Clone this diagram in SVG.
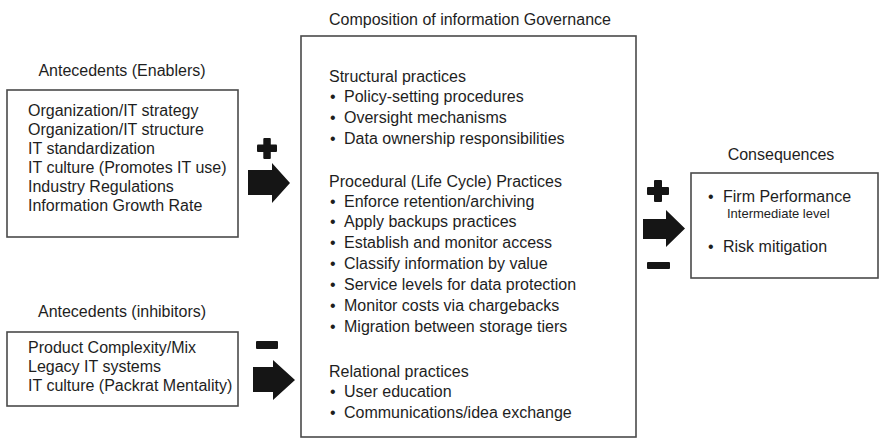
<svg xmlns="http://www.w3.org/2000/svg" width="883" height="439" viewBox="0 0 883 439">
<defs>
<style>
text{font-family:"Liberation Sans",Arial,Helvetica,sans-serif;fill:#1e1e1e;font-size:16px}
.box{fill:#fff;stroke:#4a4a4a;stroke-width:1.6}
.title{text-anchor:middle}
.small{font-size:13px}
.sym{fill:#151515}
</style>
</defs>
<rect width="883" height="439" fill="#fff"/>
<g id="enablers">
<text class="title" x="122" y="76">Antecedents (Enablers)</text>
<rect class="box" x="7" y="90" width="231" height="147"/>
<text x="28" y="116">Organization/IT strategy</text>
<text x="28" y="135">Organization/IT structure</text>
<text x="28" y="154">IT standardization</text>
<text x="28" y="173">IT culture (Promotes IT use)</text>
<text x="28" y="192">Industry Regulations</text>
<text x="28" y="211">Information Growth Rate</text>
</g>
<g id="inhibitors">
<text class="title" x="122" y="317">Antecedents (inhibitors)</text>
<rect class="box" x="7" y="332" width="231" height="74"/>
<text x="28" y="353">Product Complexity/Mix</text>
<text x="28" y="372">Legacy IT systems</text>
<text x="28" y="391">IT culture (Packrat Mentality)</text>
</g>
<g id="governance">
<text x="329" y="25">Composition of information Governance</text>
<rect class="box" x="301" y="36" width="335" height="401"/>
<text x="329" y="82">Structural practices</text>
<g>
<text x="330" y="102">•</text><text x="344" y="102">Policy-setting procedures</text>
<text x="330" y="123">•</text><text x="344" y="123">Oversight mechanisms</text>
<text x="330" y="144">•</text><text x="344" y="144">Data ownership responsibilities</text>
</g>
<text x="329" y="187">Procedural (Life Cycle) Practices</text>
<g>
<text x="330" y="207">•</text><text x="344" y="207">Enforce retention/archiving</text>
<text x="330" y="227">•</text><text x="344" y="227">Apply backups practices</text>
<text x="330" y="248">•</text><text x="344" y="248">Establish and monitor access</text>
<text x="330" y="269">•</text><text x="344" y="269">Classify information by value</text>
<text x="330" y="290">•</text><text x="344" y="290">Service levels for data protection</text>
<text x="330" y="311">•</text><text x="344" y="311">Monitor costs via chargebacks</text>
<text x="330" y="332">•</text><text x="344" y="332">Migration between storage tiers</text>
</g>
<text x="329" y="377">Relational practices</text>
<g>
<text x="330" y="397">•</text><text x="344" y="397">User education</text>
<text x="330" y="418">•</text><text x="344" y="418">Communications/idea exchange</text>
</g>
</g>
<g id="consequences">
<text class="title" x="781" y="160">Consequences</text>
<rect class="box" x="691" y="173" width="187" height="105"/>
<text x="708" y="202">•</text><text x="723" y="202">Firm Performance</text>
<text class="small" x="727" y="218">Intermediate level</text>
<text x="708" y="252">•</text><text x="723" y="252">Risk mitigation</text>
</g>
<g id="connectors">
<g id="enablers-arrow">
<rect class="sym" x="257" y="144.5" width="20" height="7.5" rx="1"/>
<rect class="sym" x="263.3" y="138" width="7.5" height="21" rx="1"/>
<path class="sym" d="M248,170 H272 V163 L290,183 L272,203 V195 H248 Z"/>
</g>
<g id="inhibitors-arrow">
<rect class="sym" x="256" y="341" width="22" height="8" rx="1"/>
<path class="sym" d="M253,367 H273 V360 L295,380 L273,400 V392 H253 Z"/>
</g>
<g id="consequences-arrow">
<rect class="sym" x="647" y="187" width="22" height="8" rx="1"/>
<rect class="sym" x="654" y="180" width="8" height="22" rx="1"/>
<path class="sym" d="M643,219 H666 V210 L685,228.5 L666,247 V239 H643 Z"/>
<rect class="sym" x="647" y="262" width="23" height="7" rx="1"/>
</g>
</g>
</svg>
